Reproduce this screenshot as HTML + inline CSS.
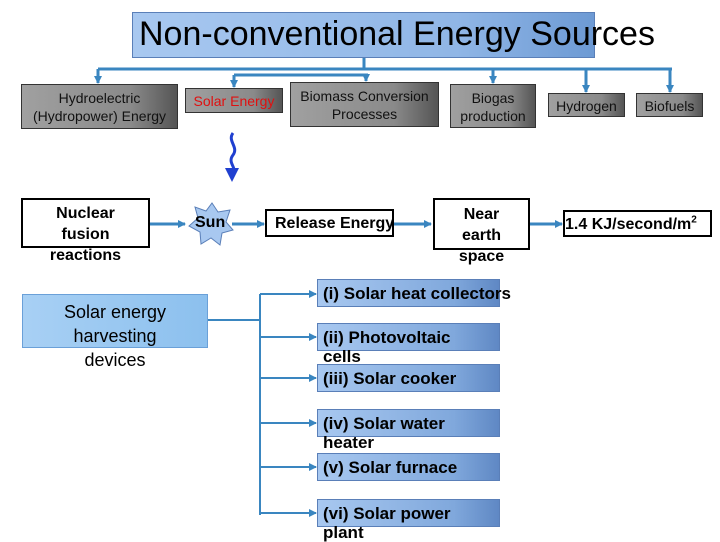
<!DOCTYPE html>
<html><head><style>
body{margin:0;width:720px;height:540px;background:#fff;position:relative;overflow:hidden;font-family:"Liberation Sans",sans-serif}
.b{position:absolute;box-sizing:border-box}
.g{background:linear-gradient(90deg,#a0a0a0,#8a8a8a 70%,#555);border:1px solid #333;color:#111;font-size:14px;text-align:center;line-height:18px}
.w{background:#fff;border:2px solid #000;font-weight:bold;font-size:16px;text-align:center;line-height:21px}
.l{background:linear-gradient(90deg,#a8c8f0,#80a8dc 75%,#5f88c4);border:1px solid #5a7fb8;font-weight:bold;font-size:17px;line-height:19px;padding:4px 0 0 5px;overflow:visible;white-space:nowrap}
</style></head><body>
<div class="b" style="left:132px;top:12px;width:463px;height:46px;background:linear-gradient(90deg,#a8c8f0,#90b6e6 70%,#6d9ad4);border:1px solid #5a7fb8"></div>
<div class="b" style="left:139px;top:15px;font-size:34px;white-space:nowrap;color:#000">Non-conventional Energy Sources</div>
<svg class="b" style="left:0;top:0" width="720" height="540">
<defs><marker id="a2" markerUnits="userSpaceOnUse" markerWidth="8" markerHeight="8" refX="7" refY="4" orient="auto"><path d="M0,0L8,4L0,8z" fill="#3a86c0"/></marker></defs>
<g stroke="#3a86c0" stroke-width="3" fill="none">
<path d="M364,58V70"/><path d="M98,69H672"/><path d="M234,75H368"/>
<path d="M98,69V83" marker-end="url(#a2)"/><path d="M234,75V87" marker-end="url(#a2)"/><path d="M366,75V81" marker-end="url(#a2)"/>
<path d="M493,69V83" marker-end="url(#a2)"/><path d="M586,69V92" marker-end="url(#a2)"/><path d="M670,69V92" marker-end="url(#a2)"/>
<path d="M150,224H185" marker-end="url(#a2)"/><path d="M232,224H264" marker-end="url(#a2)"/><path d="M394,224H431" marker-end="url(#a2)"/><path d="M530,224H562" marker-end="url(#a2)"/>
<path d="M208,320H260" stroke-width="2"/><path d="M260,294V515" stroke-width="2"/>
<path d="M260,294H316" stroke-width="2" marker-end="url(#a2)"/><path d="M260,337H316" stroke-width="2" marker-end="url(#a2)"/><path d="M260,378H316" stroke-width="2" marker-end="url(#a2)"/><path d="M260,423H316" stroke-width="2" marker-end="url(#a2)"/><path d="M260,467H316" stroke-width="2" marker-end="url(#a2)"/><path d="M260,513H316" stroke-width="2" marker-end="url(#a2)"/>
</g>
<path d="M233,133c-6,8 6,14 0,22c-6,8 4,12 0,18" stroke="#2040d0" stroke-width="3" fill="none"/>
<path d="M225,168L232,182L239,168z" fill="#2040d0"/>
<polygon points="212,203 218,212 230,210 226,222 233,230 222,233 220,245 211,238 201,244 200,232 189,226 198,218 195,207 206,211" fill="#a8c8f0" stroke="#5a7fb8"/>
</svg>
<div class="b g" style="left:21px;top:84px;width:157px;height:45px;padding-top:4px">Hydroelectric<br>(Hydropower) Energy</div>
<div class="b g" style="left:185px;top:88px;width:98px;height:25px;color:#e01010;padding-top:3px;white-space:nowrap">Solar Energy</div>
<div class="b g" style="left:290px;top:82px;width:149px;height:45px;padding-top:4px">Biomass Conversion<br>Processes</div>
<div class="b g" style="left:450px;top:84px;width:86px;height:44px;padding-top:4px">Biogas<br>production</div>
<div class="b g" style="left:548px;top:93px;width:77px;height:24px;padding-top:3px">Hydrogen</div>
<div class="b g" style="left:636px;top:93px;width:67px;height:24px;padding-top:3px">Biofuels</div>
<div class="b w" style="left:21px;top:198px;width:129px;height:50px;padding-top:3px">Nuclear<br>fusion<br>reactions</div>
<div class="b" style="left:195px;top:214px;font-weight:bold;font-size:16px">Sun</div>
<div class="b w" style="left:265px;top:209px;width:129px;height:28px;text-align:left;padding-left:8px;padding-top:2px;white-space:nowrap">Release Energy</div>
<div class="b w" style="left:433px;top:198px;width:97px;height:52px;padding-top:4px">Near<br>earth<br>space</div>
<div class="b w" style="left:563px;top:210px;width:149px;height:27px;padding-top:2px;white-space:nowrap;text-align:left;padding-left:0">1.4 KJ/second/m<sup style="font-size:10px;line-height:0">2</sup></div>
<div class="b" style="left:22px;top:294px;width:186px;height:54px;background:linear-gradient(90deg,#a8d0f4,#8cc0ee);border:1px solid #6aa0d8;font-size:18px;text-align:center;line-height:24px;padding-top:5px">Solar energy<br>harvesting<br>devices</div>
<div class="b l" style="left:317px;top:279px;width:183px;height:28px">(i) Solar heat collectors</div>
<div class="b l" style="left:317px;top:323px;width:183px;height:28px">(ii) Photovoltaic<br>cells</div>
<div class="b l" style="left:317px;top:364px;width:183px;height:28px">(iii) Solar cooker</div>
<div class="b l" style="left:317px;top:409px;width:183px;height:28px">(iv) Solar water<br>heater</div>
<div class="b l" style="left:317px;top:453px;width:183px;height:28px">(v) Solar furnace</div>
<div class="b l" style="left:317px;top:499px;width:183px;height:28px">(vi) Solar power<br>plant</div>
</body></html>
